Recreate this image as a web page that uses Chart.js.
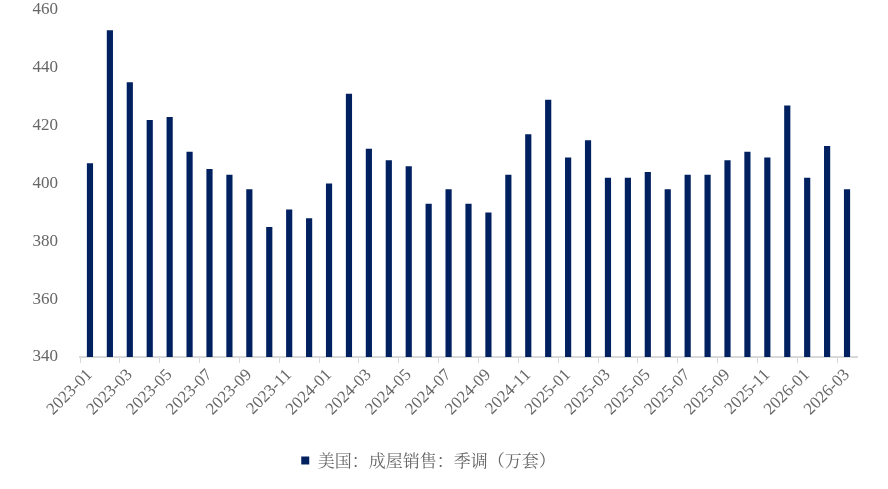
<!DOCTYPE html>
<html>
<head>
  <meta charset="UTF-8"/>
  <title>美国成屋销售</title>
  <style>
    html, body { margin: 0; padding: 0; background: #fff; }
    #wrap { width: 888px; height: 489px; }
  </style>
  <script src="https://cdn.jsdelivr.net/npm/chart.js"></script>
</head>
<body>
  <div id="wrap"><canvas id="myChart" width="888" height="489"></canvas></div>
  <script>
    // months 2023-01 .. 2026-03
    const months = [
      '2023-01','2023-02','2023-03','2023-04','2023-05','2023-06','2023-07','2023-08','2023-09','2023-10','2023-11','2023-12',
      '2024-01','2024-02','2024-03','2024-04','2024-05','2024-06','2024-07','2024-08','2024-09','2024-10','2024-11','2024-12',
      '2025-01','2025-02','2025-03','2025-04','2025-05','2025-06','2025-07','2025-08','2025-09','2025-10','2025-11','2025-12',
      '2026-01','2026-02','2026-03'
    ];
    // 成屋销售 季调 (万套)
    const sales = [
      407, 453, 435, 422, 423, 411, 405, 403, 398, 385, 391, 388,
      400, 431, 412, 408, 406, 393, 398, 393, 390, 403, 417, 429,
      409, 415, 402, 402, 404, 398, 403, 403, 408, 411, 409, 427,
      402, 413, 398
    ];
    const yTicks = [340, 360, 380, 400, 420, 440, 460];
    const seriesName = '美国：成屋销售：季调（万套）';

    const GRAY = '#666666';
    const AXIS = '#d9d9d9';

    const ctx = document.getElementById('myChart').getContext('2d');
    new Chart(ctx, {
      type: 'bar',
      data: {
        labels: months,
        datasets: [{
          label: seriesName,
          data: sales,
          backgroundColor: '#002060',
          borderWidth: 0,
          categoryPercentage: 1,
          barPercentage: 0.31
        }]
      },
      options: {
        responsive: false,
        animation: false,
        layout: { padding: { top: 5, right: 31, bottom: 10, left: 0 } },
        plugins: {
          tooltip: { enabled: false },
          legend: {
            position: 'bottom',
            labels: {
              boxWidth: 8,
              boxHeight: 8,
              color: GRAY,
              padding: 10,
              font: { family: 'Noto Serif CJK SC', size: 17 }
            }
          }
        },
        scales: {
          x: {
            offset: true,
            grid: {
              offset: true,
              drawOnChartArea: false,
              drawTicks: true,
              tickLength: 6,
              color: c => (c.index !== undefined && c.index % 2 === 0) ? AXIS : 'rgba(0,0,0,0)',
              tickColor: c => (c.index !== undefined && c.index % 2 === 0) ? AXIS : 'rgba(0,0,0,0)'
            },
            border: { display: true, color: AXIS, width: 2 },
            ticks: {
              autoSkip: false,
              minRotation: 45,
              maxRotation: 45,
              padding: 2,
              color: GRAY,
              font: { family: 'Liberation Serif', size: 17 },
              callback: function (v, i) { return i % 2 === 0 ? months[i] : ''; }
            },
            afterFit: s => { s.height = 85; }
          },
          y: {
            min: yTicks[0],
            max: yTicks[yTicks.length - 1],
            grid: { display: false, drawTicks: false },
            border: { display: false },
            afterBuildTicks: s => { s.ticks = yTicks.map(v => ({ value: v })); },
            ticks: {
              padding: 22,
              color: GRAY,
              font: { family: 'Liberation Serif', size: 17 }
            },
            afterFit: s => { s.width = 80; s.paddingTop = 10; s.paddingBottom = 10; }
          }
        }
      }
    });
  </script>
</body>
</html>
